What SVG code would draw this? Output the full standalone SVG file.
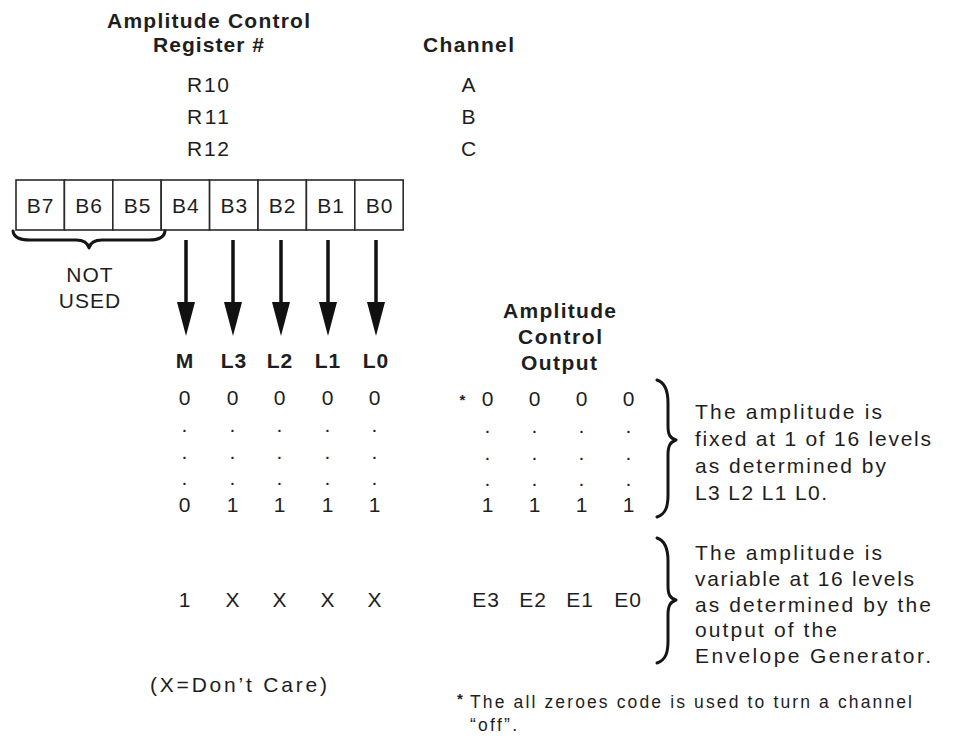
<svg xmlns="http://www.w3.org/2000/svg" width="954" height="738" viewBox="0 0 954 738">
<defs>
<style>
.t{font-family:"Liberation Sans",Arial,Helvetica,sans-serif;font-size:21px;fill:#1e1e1e;letter-spacing:1px}
.b{font-weight:bold}
.m{text-anchor:middle}
.fn{font-size:17.5px}
.cell{fill:#fff;stroke:#2a2a2a;stroke-width:1.6}
.brace{fill:none;stroke:#151515;stroke-width:3;stroke-linecap:round;stroke-linejoin:round}
.shaft{stroke:#111;stroke-width:3.5}
</style>
<marker id="ah" markerUnits="userSpaceOnUse" markerWidth="36" markerHeight="20" refX="4" refY="10" orient="auto" viewBox="0 0 36 20">
<polygon points="0,1 0,19 34,10" fill="#111"/>
</marker>
</defs>
<rect width="954" height="738" fill="#fff"/>

<g id="header">
<text class="t b" x="107" y="28" textLength="204" lengthAdjust="spacing">Amplitude Control</text>
<text class="t b" x="153" y="52" textLength="112" lengthAdjust="spacing">Register #</text>
<text class="t b" x="423" y="52" textLength="92" lengthAdjust="spacing">Channel</text>
<text class="t" x="187" y="92" textLength="43" lengthAdjust="spacing">R10</text>
<text class="t" x="187" y="124" textLength="43" lengthAdjust="spacing">R11</text>
<text class="t" x="187" y="156" textLength="43" lengthAdjust="spacing">R12</text>
<text class="t m" x="469" y="92">A</text>
<text class="t m" x="469" y="124">B</text>
<text class="t m" x="469" y="156">C</text>
</g>

<g id="register">
<rect class="cell" x="16" y="180" width="48.4" height="50"/>
<rect class="cell" x="64.4" y="180" width="48.4" height="50"/>
<rect class="cell" x="112.8" y="180" width="48.4" height="50"/>
<rect class="cell" x="161.2" y="180" width="48.4" height="50"/>
<rect class="cell" x="209.6" y="180" width="48.4" height="50"/>
<rect class="cell" x="258" y="180" width="48.4" height="50"/>
<rect class="cell" x="306.4" y="180" width="48.4" height="50"/>
<rect class="cell" x="354.8" y="180" width="48.4" height="50"/>
<text class="t m" x="40.7" y="213">B7</text>
<text class="t m" x="89.1" y="213">B6</text>
<text class="t m" x="137.5" y="213">B5</text>
<text class="t m" x="185.9" y="213">B4</text>
<text class="t m" x="234.3" y="213">B3</text>
<text class="t m" x="282.7" y="213">B2</text>
<text class="t m" x="331.1" y="213">B1</text>
<text class="t m" x="379.5" y="213">B0</text>
</g>

<g id="not-used">
<path class="brace" d="M13,231 Q14,240 30,240 L76,240 Q87,240 89,248 Q91,240 102,240 L149,240 Q164,240 165,231"/>
<text class="t m" x="90" y="282">NOT</text>
<text class="t m" x="90" y="308">USED</text>
</g>

<g id="connectors">
<line class="shaft" x1="186" y1="240" x2="186" y2="306" marker-end="url(#ah)"/>
<line class="shaft" x1="233" y1="240" x2="233" y2="306" marker-end="url(#ah)"/>
<line class="shaft" x1="281" y1="240" x2="281" y2="306" marker-end="url(#ah)"/>
<line class="shaft" x1="328" y1="240" x2="328" y2="306" marker-end="url(#ah)"/>
<line class="shaft" x1="376" y1="240" x2="376" y2="306" marker-end="url(#ah)"/>
</g>

<g id="input-table">
<text class="t b m" x="185" y="368">M</text>
<text class="t b m" x="234" y="368">L3</text>
<text class="t b m" x="280" y="368">L2</text>
<text class="t b m" x="328" y="368">L1</text>
<text class="t b m" x="376" y="368">L0</text>
<text class="t m" x="185" y="405">0</text>
<text class="t m" x="233" y="405">0</text>
<text class="t m" x="280" y="405">0</text>
<text class="t m" x="328" y="405">0</text>
<text class="t m" x="375" y="405">0</text>
<g class="t m">
<text x="185" y="432">.</text><text x="233" y="432">.</text><text x="280" y="432">.</text><text x="328" y="432">.</text><text x="375" y="432">.</text>
<text x="185" y="459">.</text><text x="233" y="459">.</text><text x="280" y="459">.</text><text x="328" y="459">.</text><text x="375" y="459">.</text>
<text x="185" y="485">.</text><text x="233" y="485">.</text><text x="280" y="485">.</text><text x="328" y="485">.</text><text x="375" y="485">.</text>
</g>
<text class="t m" x="185" y="512">0</text>
<text class="t m" x="233" y="512">1</text>
<text class="t m" x="280" y="512">1</text>
<text class="t m" x="328" y="512">1</text>
<text class="t m" x="375" y="512">1</text>
<text class="t m" x="185" y="607">1</text>
<text class="t m" x="233" y="607">X</text>
<text class="t m" x="280" y="607">X</text>
<text class="t m" x="328" y="607">X</text>
<text class="t m" x="375" y="607">X</text>
<text class="t" x="150" y="692" textLength="178" lengthAdjust="spacing">(X=Don’t Care)</text>
</g>

<g id="output-table">
<text class="t b" x="503" y="318" textLength="114" lengthAdjust="spacing">Amplitude</text>
<text class="t b" x="518" y="344" textLength="85" lengthAdjust="spacing">Control</text>
<text class="t b" x="521" y="370" textLength="77" lengthAdjust="spacing">Output</text>
<text class="t b m" x="463" y="405" style="font-size:15px">*</text>
<text class="t m" x="488" y="406">0</text>
<text class="t m" x="535" y="406">0</text>
<text class="t m" x="582" y="406">0</text>
<text class="t m" x="629" y="406">0</text>
<g class="t m">
<text x="488" y="433">.</text><text x="535" y="433">.</text><text x="582" y="433">.</text><text x="629" y="433">.</text>
<text x="488" y="460">.</text><text x="535" y="460">.</text><text x="582" y="460">.</text><text x="629" y="460">.</text>
<text x="488" y="486">.</text><text x="535" y="486">.</text><text x="582" y="486">.</text><text x="629" y="486">.</text>
</g>
<text class="t m" x="488" y="512">1</text>
<text class="t m" x="535" y="512">1</text>
<text class="t m" x="582" y="512">1</text>
<text class="t m" x="629" y="512">1</text>
<text class="t m" x="486" y="607">E3</text>
<text class="t m" x="533" y="607">E2</text>
<text class="t m" x="580" y="607">E1</text>
<text class="t m" x="628" y="607">E0</text>
</g>

<g id="fixed-note">
<path class="brace" d="M657,380 C666,383 668,392 668,403 L668,426 C668,435 670,438 676,440 C670,442 668,446 668,455 L668,495 C668,506 666,514 657,517"/>
<text class="t" x="695" y="419" textLength="188" lengthAdjust="spacing">The amplitude is</text>
<text class="t" x="695" y="446" textLength="237" lengthAdjust="spacing">fixed at 1 of 16 levels</text>
<text class="t" x="695" y="473" textLength="192" lengthAdjust="spacing">as determined by</text>
<text class="t" x="695" y="500" textLength="133" lengthAdjust="spacing">L3 L2 L1 L0.</text>
</g>

<g id="variable-note">
<path class="brace" d="M657,538 C666,541 668,550 668,561 L668,586 C668,595 670,598 676,600 C670,602 668,606 668,615 L668,641 C668,652 666,660 657,663"/>
<text class="t" x="695" y="560" textLength="188" lengthAdjust="spacing">The amplitude is</text>
<text class="t" x="695" y="586" textLength="220" lengthAdjust="spacing">variable at 16 levels</text>
<text class="t" x="695" y="612" textLength="237" lengthAdjust="spacing">as determined by the</text>
<text class="t" x="695" y="637" textLength="143" lengthAdjust="spacing">output of the</text>
<text class="t" x="695" y="663" textLength="237" lengthAdjust="spacing">Envelope Generator.</text>
</g>

<g id="footnote">
<text class="t b fn" x="457" y="704" style="font-size:15px">*</text>
<text class="t fn" x="470" y="708" textLength="443" lengthAdjust="spacing">The all zeroes code is used to turn a channel</text>
<text class="t fn" x="470" y="731" textLength="48" lengthAdjust="spacing">“off”.</text>
</g>
</svg>
